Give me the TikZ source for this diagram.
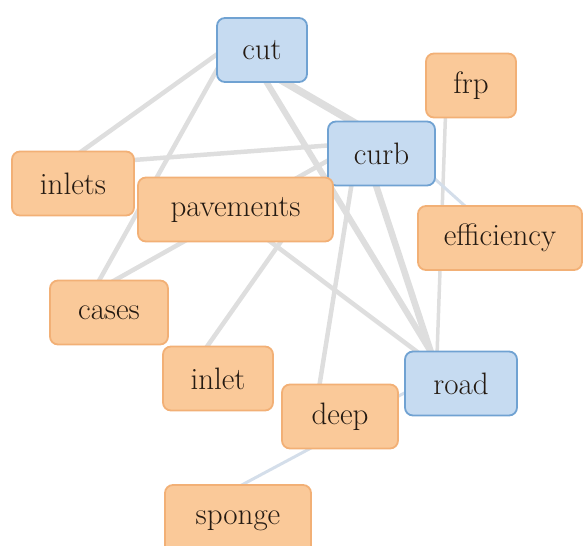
\documentclass[tikz,border=0pt]{standalone}
\usetikzlibrary{calc}
\definecolor{orfill}{RGB}{250,201,153}
\definecolor{ordraw}{RGB}{242,176,118}
\definecolor{blfill}{RGB}{198,219,241}
\definecolor{bldraw}{RGB}{112,162,210}
\definecolor{linkgray}{RGB}{222,222,222}
\definecolor{linkblue}{RGB}{212,222,234}
\definecolor{ink}{RGB}{36,26,18}
\tikzset{
  term/.style={rounded corners=8pt, line width=1.8pt, inner sep=0pt,
    minimum height=64pt, text=ink, font=\fontsize{31}{36}\selectfont},
  orangeterm/.style={term, fill=orfill, draw=ordraw},
  blueterm/.style={term, fill=blfill, draw=bldraw},
  link/.style={draw=linkgray, line width=4.5pt},
  heavylink/.style={draw=linkgray, line width=7.5pt},
  faintlink/.style={draw=linkblue, line width=3pt},
}
\pgfdeclarelayer{links}
\pgfsetlayers{links,main}
\begin{document}
\begin{tikzpicture}[x=1pt, y=-1pt]
\useasboundingbox (0,0) rectangle (584,546);

% terms
\node[blueterm, minimum width=90pt]    (cut)   at (262,50)    {cut};
\node[orangeterm, minimum width=90pt]  (frp)   at (471,85.5)  {frp};
\node[blueterm, minimum width=107pt]   (curb)  at (381.5,153.5) {curb};
\node[orangeterm, minimum width=122pt] (inlets) at (73,183.5) {inlets};
\node[orangeterm, minimum width=195pt] (pav)   at (235.5,209.5) {pavements};
\node[orangeterm, minimum width=164pt] (eff)   at (500,238)   {efficiency};
\node[orangeterm, minimum width=118pt] (cases) at (109,312.5) {cases};
\node[orangeterm, minimum width=110pt] (inlet) at (218,378.5) {inlet};
\node[blueterm, minimum width=112pt]   (road)  at (461,383.5) {road};
\node[orangeterm, minimum width=116pt] (deep)  at (340,416.5) {deep};
\node[orangeterm, minimum width=146pt, minimum height=72pt, text height=14pt]
  (sponge) at (238,521) {sponge};

% co-occurrence links, drawn behind the terms
\begin{pgfonlayer}{links}
\draw[link] ($(cut)+(-32,-5)$) -- ($(inlets)+(0,-26)$);
\draw[link] ($(cut)+(-34,0)$) -- ($(cases)+(-21,-12)$);
\draw[heavylink] ($(cut)+(0,19)$) -- ($(curb)+(0,-15)$);
\draw[link, line width=6pt] ($(cut)+(-15,0)$) -- ($(road)+(-31,-33)$);
\draw[link] ($(inlets)+(0,-19)$) -- ($(curb)+(0,-12)$);
\draw[link] ($(cases)+(0,-29)$) -- ($(curb)+(0,-23)$);
\draw[link] ($(pav)+(-8,0)$) -- ($(road)+(-43,-31)$);
\draw[link] ($(pav)+(68,0)$) -- ($(inlet)+(-18,-22)$);
\draw[link] ($(curb)+(-25,0)$) -- ($(deep)+(-23,-16)$);
\draw[heavylink, line width=6.5pt] ($(curb)+(-16,0)$) -- ($(road)+(-29,-28)$);
\draw[link, line width=3.5pt] ($(frp)+(-25,15)$) -- ($(road)+(-24,-28)$);
\draw[faintlink] ($(curb)+(44,17)$) -- ($(eff)+(-35,-32)$);
\draw[faintlink] ($(deep)+(50,-16)$) -- ($(road)+(-46,4)$);
\draw[faintlink] ($(sponge)+(0,-34)$) -- ($(deep)+(0,16)$);
\end{pgfonlayer}
\end{tikzpicture}
\end{document}
